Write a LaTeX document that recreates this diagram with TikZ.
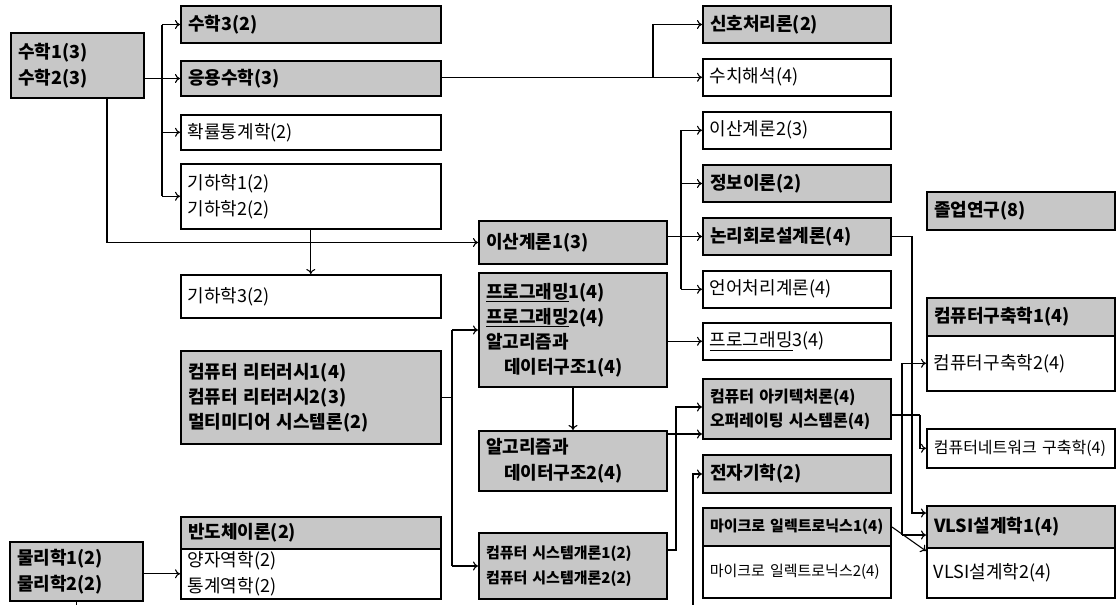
\documentclass[tikz,border=0pt]{standalone}
\usepackage{fontspec}
\setmainfont{Noto Sans CJK KR}
\usetikzlibrary{arrows.meta,calc}
\newcommand\fsN{\fontsize{18}{26}\selectfont}
\newcommand\fsM{\fontsize{16}{24}\selectfont}
\newcommand\fsS{\fontsize{15}{22}\selectfont}
\begin{document}
\begin{tikzpicture}[x=1pt,y=-1pt,
  bx/.style={draw, line width=1.6pt, anchor=north west, inner xsep=7pt, inner ysep=0pt, align=left, font=\fsN},
  gb/.style={bx, line width=2pt, fill=black!22, font=\fsN\bfseries},
  wA/.style={minimum width=260, text width=246},
  wB/.style={minimum width=188, text width=174},
  wS/.style={minimum width=133, text width=119},
  conn/.style={line width=1.1pt},
  arr/.style={conn, -{To[length=5pt,width=9pt]}},
]
\path[use as bounding box, fill=white] (0,0) rectangle (1119,605);

% column A and left
\node[gb,wS,minimum height=65] (math) at (10,32) {수학1(3)\\수학2(3)};
\node[gb,wA,minimum height=37] (su3) at (180,5) {수학3(2)};
\node[gb,wA,minimum height=35] (eung) at (180,60) {응용수학(3)};
\node[bx,wA,minimum height=35] (prob) at (180,114) {확률통계학(2)};
\node[bx,wA,minimum height=65] (geo) at (180,163) {기하학1(2)\\기하학2(2)};
\node[bx,wA,minimum height=43] (geo3) at (180,274) {기하학3(2)};
\node[gb,wA,minimum height=93,font=\fontsize{18}{25}\selectfont\bfseries] (lit) at (180,350) {컴퓨터 리터러시1(4)\\컴퓨터 리터러시2(3)\\멀티미디어 시스템론(2)};
\node[gb,wA,minimum height=32] (semi) at (180,516) {반도체이론(2)};
\node[bx,wA,minimum height=50] (qm) at (180,548) {양자역학(2)\\통계역학(2)};
\node[gb,wS,minimum height=59] (phys) at (9,541) {물리학1(2)\\물리학2(2)};

% column B
\node[gb,wB,minimum height=43] (dm1) at (478,220) {이산계론1(3)};
\node[gb,wB,minimum height=114,font=\fontsize{18}{25}\selectfont\bfseries] (prog) at (478,272) {\underline{프로그래밍}1(4)\\\underline{프로그래밍}2(4)\\알고리즘과\\\hspace*{1em}데이터구조1(4)};
\node[gb,wB,minimum height=60] (alg2) at (478,430) {알고리즘과\\\hspace*{1em}데이터구조2(4)};
\node[gb,wB,minimum height=66,font=\fontsize{15}{25}\selectfont\bfseries] (sys) at (478,532) {컴퓨터 시스템개론1(2)\\컴퓨터 시스템개론2(2)};

% column C
\node[gb,wB,minimum height=37] (sig) at (702,5) {신호처리론(2)};
\node[bx,wB,minimum height=37] (num) at (702,58) {수치해석(4)};
\node[bx,wB,minimum height=37] (dm2) at (702,111) {이산계론2(3)};
\node[gb,wB,minimum height=37] (info) at (702,164) {정보이론(2)};
\node[gb,wB,minimum height=37] (logic) at (702,217) {논리회로설계론(4)};
\node[bx,wB,minimum height=37] (lang) at (702,270) {언어처리계론(4)};
\node[bx,wB,minimum height=37] (pg3) at (702,322) {\underline{프로그래밍}3(4)};
\node[gb,wB,minimum height=60,font=\fsM\bfseries] (arch) at (702,378) {컴퓨터 아키텍처론(4)\\오퍼레이팅 시스템론(4)};
\node[gb,wB,minimum height=38] (elec) at (702,454) {전자기학(2)};
\node[gb,wB,minimum height=38,font=\fsS\bfseries] (micro1) at (702,507) {마이크로 일렉트로닉스1(4)};
\node[bx,wB,minimum height=52,font=\fsS] (micro2) at (702,545) {마이크로 일렉트로닉스2(4)};

% column D
\node[gb,wB,minimum height=38] (grad) at (926,191) {졸업연구(8)};
\node[gb,wB,minimum height=38] (comp1) at (926,297) {컴퓨터구축학1(4)};
\node[bx,wB,minimum height=55] (comp2) at (926,335) {컴퓨터구축학2(4)};
\node[bx,wB,minimum height=39,font=\fsM] (net) at (926,428) {컴퓨터네트워크 구축학(4)};
\node[gb,wB,minimum height=42] (vlsi1) at (926,505) {VLSI설계학1(4)};
\node[bx,wB,minimum height=50] (vlsi2) at (926,547) {VLSI설계학2(4)};

% connectors: math
\coordinate (ja) at (162,0);
\draw[arr] (math.east |- eung.west) -- (eung.west);
\draw[conn] (ja |- su3.west) -- (ja |- geo.west);
\draw[arr] (ja |- su3.west) -- (su3.west);
\draw[arr] (ja |- prob.west) -- (prob.west);
\draw[arr] (ja |- geo.west) -- (geo.west);
\coordinate (jb) at (107,0);
\draw[arr] (jb |- math.south) |- (dm1.west);
\draw[arr] (geo.south) -- (geo3.north);
% applied math
\coordinate (jc) at (653,0);
\draw[arr] (eung.east |- num.west) -- (num.west);
\draw[arr] (jc |- num.west) |- (sig.west);
% discrete math 1
\coordinate (jd) at (681,0);
\draw[arr] (dm1.east |- logic.west) -- (logic.west);
\draw[conn] (jd |- dm2.west) -- (jd |- lang.west);
\draw[arr] (jd |- dm2.west) -- (dm2.west);
\draw[arr] (jd |- info.west) -- (info.west);
\draw[arr] (jd |- lang.west) -- (lang.west);
% literacy
\coordinate (je) at (452,0);
\draw[conn] (lit.east) -- (je |- lit.east);
\draw[conn] (je |- prog.west) -- (je |- sys.west);
\draw[arr] (je |- prog.west) -- (prog.west);
\draw[arr] (je |- sys.west) -- (sys.west);
% programming
\draw[arr] (prog.east |- pg3.west) -- (pg3.west);
\draw[arr] (prog.south) -- (alg2.north);
\coordinate (archB) at ($(arch.south west)+(0,-6)$);
\draw[arr] (alg2.east |- archB) -- (archB);
\coordinate (archT) at ($(arch.north west)+(0,29)$);
\draw[arr] ($(sys.north east)+(0,18)$) -- ++(8,0) |- (archT);
% architecture
\coordinate (archE) at ($(arch.east)+(0,6)$);
\coordinate (jf) at (902,0);
\coordinate (jg) at (920,0);
\coordinate (jh) at (912,0);
\draw[conn] (archE) -- (jg |- archE);
\draw[arr] (jg |- archE) |- (net.west);
\coordinate (vA) at ($(vlsi1.south west)+(0,-14)$);
\draw[conn] (jf |- comp2.west) -- (jf |- vA);
\draw[arr] (jf |- comp2.west) -- (comp2.west);
\draw[arr] (jf |- vA) -- (vA);
\coordinate (vB) at ($(vlsi1.north west)+(0,8)$);
\draw[arr] (logic.east) -| (jh |- vB) -- (vB);
\draw[arr] (micro1.east) -- ($(vlsi1.south west)+(0,2)$);
% physics
\draw[arr] (phys.east |- qm.west) -- (qm.west);
\begin{scope}
\clip (0,0) rectangle (1119,605);
\coordinate (ji) at (693,0);
\draw[arr] (phys.south) -- ++(0,30) -| (ji |- elec.west) -- (elec.west);
\end{scope}
\end{tikzpicture}
\end{document}
